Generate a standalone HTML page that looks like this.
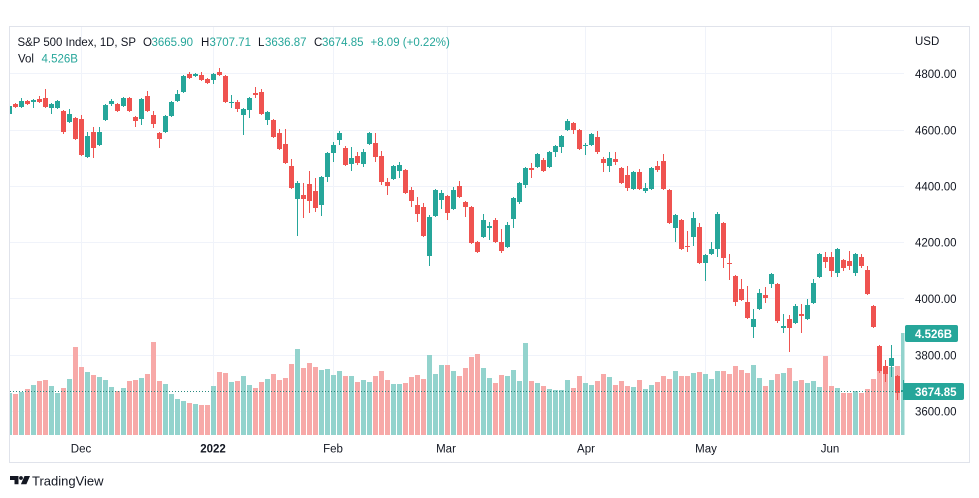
<!DOCTYPE html>
<html><head><meta charset="utf-8"><style>
html,body{margin:0;padding:0;background:#fff;width:979px;height:498px;overflow:hidden}
svg{display:block;font-family:"Liberation Sans",Arial,sans-serif}
</style></head><body>
<svg width="979" height="498" viewBox="0 0 979 498">
<defs><clipPath id="c"><rect x="10" y="27" width="894.5" height="408"/></clipPath></defs>
<rect x="9.5" y="26.5" width="960" height="436" fill="#fff" stroke="#e0e3eb"/>
<g stroke="#f0f3fa" stroke-width="1">
<path d="M10 73.5H904M10 130.5H904M10 186.5H904M10 242.5H904M10 298.5H904M10 355.5H904M10 411.5H904"/>
<path d="M81.5 27V435M213.5 27V435M333.5 27V435M447.5 27V435M585.5 27V435M705.5 27V435M831.5 27V435"/>
</g>
<g clip-path="url(#c)">
<path fill="#93d3cd" d="M7 393h5V435h-5zM19 392h5V435h-5zM31 385h5V435h-5zM49 386h5V435h-5zM55 393h5V435h-5zM67 379h5V435h-5zM85 372h5V435h-5zM97 377h5V435h-5zM103 380h5V435h-5zM109 387h5V435h-5zM121 388h5V435h-5zM139 378h5V435h-5zM163 384h5V435h-5zM169 394h5V435h-5zM175 399h5V435h-5zM181 401h5V435h-5zM193 404h5V435h-5zM211 386h5V435h-5zM229 382h5V435h-5zM241 376h5V435h-5zM247 385h5V435h-5zM265 379h5V435h-5zM295 349h5V435h-5zM319 370h5V435h-5zM325 369h5V435h-5zM331 375h5V435h-5zM337 371h5V435h-5zM349 376h5V435h-5zM361 380h5V435h-5zM367 382h5V435h-5zM391 384h5V435h-5zM397 384h5V435h-5zM427 355h5V435h-5zM433 374h5V435h-5zM439 365h5V435h-5zM451 371h5V435h-5zM481 368h5V435h-5zM487 378h5V435h-5zM505 376h5V435h-5zM511 370h5V435h-5zM517 381h5V435h-5zM523 343h5V435h-5zM535 383h5V435h-5zM547 389h5V435h-5zM553 390h5V435h-5zM559 390h5V435h-5zM565 380h5V435h-5zM583 383h5V435h-5zM589 385h5V435h-5zM607 377h5V435h-5zM631 387h5V435h-5zM643 389h5V435h-5zM649 385h5V435h-5zM673 371h5V435h-5zM691 373h5V435h-5zM703 374h5V435h-5zM709 379h5V435h-5zM715 371h5V435h-5zM751 365h5V435h-5zM757 378h5V435h-5zM769 380h5V435h-5zM781 373h5V435h-5zM793 381h5V435h-5zM805 383h5V435h-5zM811 381h5V435h-5zM817 387h5V435h-5zM835 388h5V435h-5zM853 391h5V435h-5zM889 367h5V435h-5zM901 333h5V435h-5z"/>
<path fill="#f7a9a8" d="M13 394h5V435h-5zM25 389h5V435h-5zM37 381h5V435h-5zM43 380h5V435h-5zM61 388h5V435h-5zM73 347h5V435h-5zM79 367h5V435h-5zM91 375h5V435h-5zM115 391h5V435h-5zM127 381h5V435h-5zM133 380h5V435h-5zM145 374h5V435h-5zM151 342h5V435h-5zM157 381h5V435h-5zM187 403h5V435h-5zM199 405h5V435h-5zM205 405h5V435h-5zM217 372h5V435h-5zM223 373h5V435h-5zM235 381h5V435h-5zM253 388h5V435h-5zM259 382h5V435h-5zM271 374h5V435h-5zM277 380h5V435h-5zM283 378h5V435h-5zM289 364h5V435h-5zM301 368h5V435h-5zM307 363h5V435h-5zM313 367h5V435h-5zM343 376h5V435h-5zM355 382h5V435h-5zM373 376h5V435h-5zM379 371h5V435h-5zM385 380h5V435h-5zM403 383h5V435h-5zM409 377h5V435h-5zM415 375h5V435h-5zM421 379h5V435h-5zM445 365h5V435h-5zM457 376h5V435h-5zM463 368h5V435h-5zM469 357h5V435h-5zM475 354h5V435h-5zM493 383h5V435h-5zM499 375h5V435h-5zM529 381h5V435h-5zM541 386h5V435h-5zM571 388h5V435h-5zM577 376h5V435h-5zM595 381h5V435h-5zM601 374h5V435h-5zM613 385h5V435h-5zM619 381h5V435h-5zM625 386h5V435h-5zM637 380h5V435h-5zM655 382h5V435h-5zM661 376h5V435h-5zM667 379h5V435h-5zM679 376h5V435h-5zM685 376h5V435h-5zM697 372h5V435h-5zM721 371h5V435h-5zM727 374h5V435h-5zM733 366h5V435h-5zM739 370h5V435h-5zM745 373h5V435h-5zM763 386h5V435h-5zM775 374h5V435h-5zM787 368h5V435h-5zM799 380h5V435h-5zM823 356h5V435h-5zM829 386h5V435h-5zM841 393h5V435h-5zM847 393h5V435h-5zM859 393h5V435h-5zM865 389h5V435h-5zM871 379h5V435h-5zM877 360h5V435h-5zM883 366h5V435h-5zM895 366h5V435h-5z"/>
<path stroke="#26a69a" stroke-width="1" fill="none" d="M9.5 104V116M21.5 98V108M33.5 99V108M51.5 103V114M57.5 100V109M69.5 109V123M87.5 132V158M99.5 127V146M105.5 104V121M111.5 99V106M123.5 97V107M141.5 98V125M165.5 115V133M171.5 101V117M177.5 90V102M183.5 75V93M195.5 73V77M213.5 73V84M231.5 95V108M243.5 108V135M249.5 97V118M267.5 111V125M297.5 181V236M321.5 176V216M327.5 152V182M333.5 142V162M339.5 131V145M351.5 147V171M363.5 149V167M369.5 132V145M393.5 165V180M399.5 162V178M429.5 215V266M435.5 189V217M441.5 190V209M453.5 187V210M483.5 214V238M489.5 222V240M507.5 222V248M513.5 197V228M519.5 182V204M525.5 167V188M537.5 153V168M549.5 151V168M555.5 145V157M561.5 135V153M567.5 119V131M585.5 143V155M591.5 133V146M609.5 152V172M633.5 171V190M645.5 183V193M651.5 167V190M675.5 214V242M693.5 212V246M705.5 254V281M711.5 242V255M717.5 212V257M753.5 309V338M759.5 289V310M771.5 273V288M783.5 314V333M795.5 304V324M807.5 299V320M813.5 279V304M819.5 253V278M837.5 248V277M855.5 253V276M891.5 345V377M903.5 380V400"/>
<path stroke="#ef5350" stroke-width="1" fill="none" d="M15.5 103V108M27.5 100V105M39.5 96V103M45.5 89V108M63.5 110V134M75.5 117V140M81.5 115V156M93.5 127V158M117.5 103V112M129.5 97V112M135.5 116V127M147.5 91V112M153.5 111V128M159.5 132V148M189.5 72V79M201.5 72V81M207.5 78V84M219.5 68V76M225.5 75V103M237.5 100V112M255.5 87V98M261.5 89V115M273.5 119V138M279.5 129V150M285.5 129V164M291.5 159V189M303.5 183V218M309.5 171V213M315.5 178V212M345.5 146V166M357.5 152V165M375.5 133V162M381.5 151V185M387.5 178V195M405.5 169V194M411.5 187V207M417.5 197V222M423.5 203V237M447.5 195V220M459.5 181V198M465.5 201V217M471.5 206V244M477.5 241V253M495.5 218V243M501.5 229V253M531.5 163V178M543.5 158V172M573.5 122V134M579.5 129V150M597.5 131V154M603.5 157V172M615.5 152V165M621.5 167V184M627.5 166V191M639.5 169V190M657.5 161V172M663.5 154V190M669.5 189V224M681.5 219V250M687.5 231V252M699.5 223V264M723.5 222V268M729.5 254V280M735.5 275V306M741.5 279V301M747.5 286V319M765.5 287V303M777.5 283V323M789.5 315V352M801.5 304V333M825.5 252V268M831.5 252V277M843.5 259V271M849.5 251V270M861.5 254V268M867.5 266V295M873.5 305V328M879.5 345V373M885.5 360V382M897.5 375V400"/>
<path fill="#26a69a" d="M7 106h5v8h-5zM19 101h5v6h-5zM31 100h5v2h-5zM49 104h5v4h-5zM55 101h5v7h-5zM67 114h5v8h-5zM85 136h5v21h-5zM97 132h5v13h-5zM103 105h5v15h-5zM109 101h5v3h-5zM121 98h5v8h-5zM139 99h5v20h-5zM163 116h5v16h-5zM169 102h5v14h-5zM175 94h5v7h-5zM181 76h5v16h-5zM193 74h5v2h-5zM211 74h5v6h-5zM229 102h5v1h-5zM241 109h5v6h-5zM247 98h5v12h-5zM265 112h5v8h-5zM295 183h5v16h-5zM319 177h5v28h-5zM325 153h5v24h-5zM331 145h5v8h-5zM337 133h5v7h-5zM349 158h5v6h-5zM361 152h5v12h-5zM367 133h5v11h-5zM391 166h5v13h-5zM397 165h5v6h-5zM427 217h5v39h-5zM433 190h5v26h-5zM439 193h5v7h-5zM451 190h5v19h-5zM481 220h5v17h-5zM487 226h5v2h-5zM505 225h5v22h-5zM511 198h5v21h-5zM517 183h5v19h-5zM523 168h5v17h-5zM535 154h5v13h-5zM547 152h5v15h-5zM553 146h5v6h-5zM559 136h5v11h-5zM565 121h5v9h-5zM583 145h5v1h-5zM589 134h5v11h-5zM607 158h5v8h-5zM631 172h5v17h-5zM643 188h5v3h-5zM649 168h5v21h-5zM673 215h5v13h-5zM691 218h5v19h-5zM703 255h5v8h-5zM709 249h5v5h-5zM715 214h5v35h-5zM751 319h5v8h-5zM757 293h5v16h-5zM769 274h5v10h-5zM781 326h5v2h-5zM793 306h5v17h-5zM805 305h5v14h-5zM811 283h5v20h-5zM817 254h5v23h-5zM835 249h5v24h-5zM853 254h5v19h-5zM889 358h5v8h-5zM901 390h5v2h-5z"/>
<path fill="#ef5350" d="M13 104h5v3h-5zM25 101h5v3h-5zM37 99h5v3h-5zM43 98h5v9h-5zM61 111h5v21h-5zM73 118h5v21h-5zM79 119h5v36h-5zM91 132h5v16h-5zM115 104h5v7h-5zM127 98h5v13h-5zM133 117h5v4h-5zM145 96h5v15h-5zM151 115h5v9h-5zM157 133h5v6h-5zM187 74h5v4h-5zM199 75h5v5h-5zM205 79h5v4h-5zM217 72h5v3h-5zM223 76h5v26h-5zM235 102h5v7h-5zM253 93h5v2h-5zM259 92h5v22h-5zM271 120h5v17h-5zM277 133h5v16h-5zM283 144h5v19h-5zM289 166h5v22h-5zM301 195h5v4h-5zM307 184h5v17h-5zM313 191h5v17h-5zM343 148h5v17h-5zM355 156h5v7h-5zM373 143h5v14h-5zM379 156h5v26h-5zM385 182h5v4h-5zM403 170h5v23h-5zM409 190h5v11h-5zM415 205h5v9h-5zM421 207h5v29h-5zM445 196h5v17h-5zM457 186h5v11h-5zM463 202h5v5h-5zM469 207h5v36h-5zM475 242h5v10h-5zM493 220h5v22h-5zM499 242h5v9h-5zM529 168h5v2h-5zM541 160h5v11h-5zM571 123h5v7h-5zM577 130h5v19h-5zM595 137h5v15h-5zM601 159h5v4h-5zM613 159h5v3h-5zM619 168h5v15h-5zM625 175h5v13h-5zM637 172h5v17h-5zM655 166h5v4h-5zM661 161h5v28h-5zM667 190h5v33h-5zM679 220h5v29h-5zM685 246h5v1h-5zM697 227h5v36h-5zM721 223h5v35h-5zM727 263h5v1h-5zM733 276h5v26h-5zM739 289h5v11h-5zM745 302h5v16h-5zM763 295h5v3h-5zM775 284h5v37h-5zM787 319h5v9h-5zM799 314h5v2h-5zM823 257h5v5h-5zM829 257h5v14h-5zM841 260h5v8h-5zM847 261h5v5h-5zM859 257h5v9h-5zM865 270h5v24h-5zM871 306h5v21h-5zM877 346h5v25h-5zM883 366h5v8h-5zM895 376h5v17h-5z"/>
<path d="M10 391.5H904" stroke="#2a8a80" stroke-width="1" stroke-dasharray="1 2"/>
</g>
<g font-size="11.5" fill="#131722">
<text x="17.5" y="46" textLength="118.5" lengthAdjust="spacingAndGlyphs">S&amp;P 500 Index, 1D, SP</text>
<text x="143" y="46">O</text><text x="151.5" y="46" fill="#26a69a">3665.90</text>
<text x="201" y="46">H</text><text x="209.5" y="46" fill="#26a69a">3707.71</text>
<text x="258" y="46">L</text><text x="265" y="46" fill="#26a69a">3636.87</text>
<text x="314" y="46">C</text><text x="322" y="46" fill="#26a69a">3674.85</text>
<text x="370.5" y="46" fill="#26a69a">+8.09 (+0.22%)</text>
<text x="18" y="62.5">Vol</text><text x="41.5" y="62.5" fill="#26a69a">4.526B</text>
<text x="915" y="45">USD</text>
<text x="915" y="78">4800.00</text>
<text x="915" y="134.7">4600.00</text>
<text x="915" y="190.5">4400.00</text>
<text x="915" y="246.5">4200.00</text>
<text x="915" y="302.8">4000.00</text>
<text x="915" y="359.5">3800.00</text>
<text x="915" y="415.5">3600.00</text>
<g text-anchor="middle">
<text x="81" y="452.7">Dec</text>
<text x="213" y="452.7" font-weight="bold">2022</text>
<text x="333" y="452.7">Feb</text>
<text x="446" y="452.7">Mar</text>
<text x="586" y="452.7">Apr</text>
<text x="706" y="452.7">May</text>
<text x="830" y="452.7">Jun</text>
</g>
</g>
<rect x="905" y="325" width="53" height="17" rx="2" fill="#26a69a"/>
<text x="915" y="338" font-size="11.5" font-weight="bold" fill="#fff">4.526B</text>
<rect x="903" y="383" width="61" height="17" rx="2" fill="#26a69a"/>
<text x="915" y="396" font-size="11.5" font-weight="bold" fill="#fff">3674.85</text>
<g fill="#131722">
<path d="M10 476h8.5v8.3h-4v-4.3h-4.5z"/>
<circle cx="21" cy="478" r="1.9"/>
<path d="M24.5 476h5.5l-3.6 8.3h-5.5z"/>
<text x="32" y="485.3" font-size="13">TradingView</text>
</g>
</svg>
</body></html>
